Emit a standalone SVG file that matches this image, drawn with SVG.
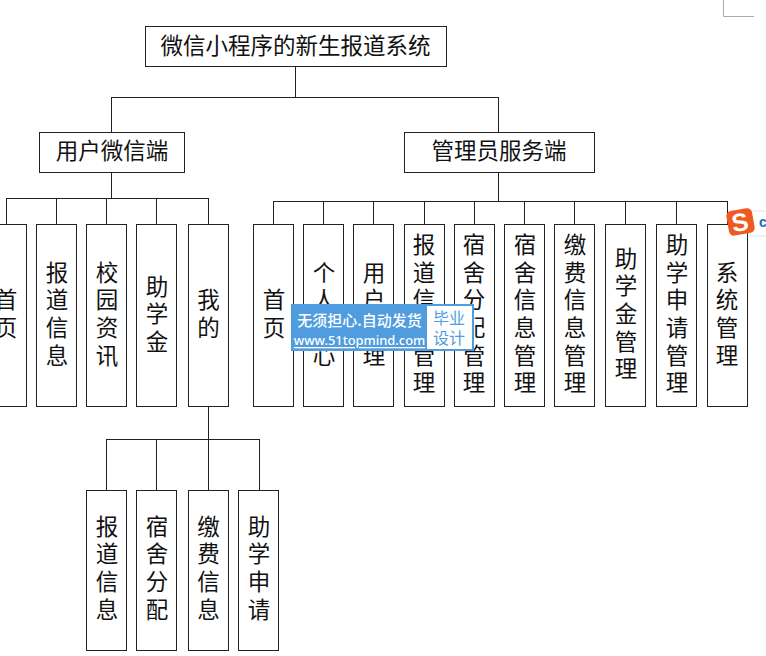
<svg xmlns="http://www.w3.org/2000/svg" width="766" height="656" viewBox="0 0 766 656">
<style>
.b{fill:#fff;stroke:#222;stroke-width:1}
.t{font-family:"Noto Sans CJK SC","Noto Sans CJK JP",sans-serif;font-size:22.500px;fill:#111;text-anchor:middle;dominant-baseline:central;transform:translateY(-2px)}
.c{fill:none;stroke:#222;stroke-width:1}
</style>
<rect width="766" height="656" fill="#fff"/>
<path d="M723.500 0V16.500H754" fill="none" stroke="#aaa"/>
<g id="connectors" class="c">
<path d="M295.500 66V97.500M111.500 97.500H498.500M111.500 97V132M498.500 97V132"/>
<path d="M111.500 172V198.500M6.500 198.500H208.500M6.500 198V224M56.500 198V224M106.500 198V224M156.500 198V224M208.500 198V224"/>
<path d="M498.500 172V201.500M273.500 201.500H727.500M273.500 201V224M323.500 201V224M373.500 201V224M424.500 201V224M474.500 201V224M524.500 201V224M574.500 201V224M625.500 201V224M676.500 201V224M727.500 201V224"/>
<path d="M208.500 406V439.500M106.500 439.500H259.500M106.500 439V490M156.500 439V490M208.500 439V490M259.500 439V490"/>
</g>
<g id="root"><rect class="b" x="145.500" y="26.500" width="301" height="40"/><text class="t" x="295.500" y="46">微信小程序的新生报道系统</text></g>
<g id="user"><rect class="b" x="39.500" y="132.500" width="145" height="40"/><text class="t" x="112" y="151">用户微信端</text></g>
<g id="admin"><rect class="b" x="404.500" y="132.500" width="190" height="40"/><text class="t" x="499" y="151">管理员服务端</text></g>
<g id="u1"><rect class="b" x="-14.500" y="224.500" width="41" height="182"/><text class="t" x="6"><tspan x="6" y="300">首</tspan><tspan x="6" y="328">页</tspan></text></g>
<g id="u2"><rect class="b" x="36.500" y="224.500" width="40" height="182"/><text class="t"><tspan x="57" y="273">报</tspan><tspan x="57" y="300">道</tspan><tspan x="57" y="328">信</tspan><tspan x="57" y="356">息</tspan></text></g>
<g id="u3"><rect class="b" x="86.500" y="224.500" width="40" height="182"/><text class="t"><tspan x="107" y="273">校</tspan><tspan x="107" y="300">园</tspan><tspan x="107" y="328">资</tspan><tspan x="107" y="356">讯</tspan></text></g>
<g id="u4"><rect class="b" x="136.500" y="224.500" width="40" height="182"/><text class="t"><tspan x="157" y="287">助</tspan><tspan x="157" y="314">学</tspan><tspan x="157" y="342">金</tspan></text></g>
<g id="u5"><rect class="b" x="188.500" y="224.500" width="40" height="182"/><text class="t"><tspan x="208.500" y="300">我</tspan><tspan x="208.500" y="328">的</tspan></text></g>
<g id="m1"><rect class="b" x="86.500" y="490.500" width="40" height="160"/><text class="t"><tspan x="107" y="527">报</tspan><tspan x="107" y="554">道</tspan><tspan x="107" y="582">信</tspan><tspan x="107" y="610">息</tspan></text></g>
<g id="m2"><rect class="b" x="136.500" y="490.500" width="40" height="160"/><text class="t"><tspan x="157" y="527">宿</tspan><tspan x="157" y="554">舍</tspan><tspan x="157" y="582">分</tspan><tspan x="157" y="610">配</tspan></text></g>
<g id="m3"><rect class="b" x="188.500" y="490.500" width="40" height="160"/><text class="t"><tspan x="208.500" y="527">缴</tspan><tspan x="208.500" y="554">费</tspan><tspan x="208.500" y="582">信</tspan><tspan x="208.500" y="610">息</tspan></text></g>
<g id="m4"><rect class="b" x="238.500" y="490.500" width="40" height="160"/><text class="t"><tspan x="259" y="527">助</tspan><tspan x="259" y="554">学</tspan><tspan x="259" y="582">申</tspan><tspan x="259" y="610">请</tspan></text></g>
<g id="a1"><rect class="b" x="253.500" y="224.500" width="40" height="182"/><text class="t"><tspan x="274" y="300">首</tspan><tspan x="274" y="328">页</tspan></text></g>
<g id="a2"><rect class="b" x="303.500" y="224.500" width="40" height="182"/><text class="t"><tspan x="324" y="273">个</tspan><tspan x="324" y="300">人</tspan><tspan x="324" y="328">中</tspan><tspan x="324" y="356">心</tspan></text></g>
<g id="a3"><rect class="b" x="353.500" y="224.500" width="40" height="182"/><text class="t"><tspan x="374" y="273">用</tspan><tspan x="374" y="300">户</tspan><tspan x="374" y="328">管</tspan><tspan x="374" y="356">理</tspan></text></g>
<g id="a4"><rect class="b" x="404.500" y="224.500" width="40" height="182"/><text class="t"><tspan x="424" y="245">报</tspan><tspan x="424" y="273">道</tspan><tspan x="424" y="300">信</tspan><tspan x="424" y="328">息</tspan><tspan x="424" y="356">管</tspan><tspan x="424" y="383">理</tspan></text></g>
<g id="a5"><rect class="b" x="454.500" y="224.500" width="40" height="182"/><text class="t"><tspan x="474" y="245">宿</tspan><tspan x="474" y="273">舍</tspan><tspan x="474" y="300">分</tspan><tspan x="474" y="328">配</tspan><tspan x="474" y="356">管</tspan><tspan x="474" y="383">理</tspan></text></g>
<g id="a6"><rect class="b" x="504.500" y="224.500" width="40" height="182"/><text class="t"><tspan x="525" y="245">宿</tspan><tspan x="525" y="273">舍</tspan><tspan x="525" y="300">信</tspan><tspan x="525" y="328">息</tspan><tspan x="525" y="356">管</tspan><tspan x="525" y="383">理</tspan></text></g>
<g id="a7"><rect class="b" x="554.500" y="224.500" width="40" height="182"/><text class="t"><tspan x="575" y="245">缴</tspan><tspan x="575" y="273">费</tspan><tspan x="575" y="300">信</tspan><tspan x="575" y="328">息</tspan><tspan x="575" y="356">管</tspan><tspan x="575" y="383">理</tspan></text></g>
<g id="a8"><rect class="b" x="605.500" y="224.500" width="40" height="182"/><text class="t"><tspan x="626" y="259">助</tspan><tspan x="626" y="286">学</tspan><tspan x="626" y="314">金</tspan><tspan x="626" y="342">管</tspan><tspan x="626" y="369">理</tspan></text></g>
<g id="a9"><rect class="b" x="656.500" y="224.500" width="40" height="182"/><text class="t"><tspan x="677" y="245">助</tspan><tspan x="677" y="273">学</tspan><tspan x="677" y="300">申</tspan><tspan x="677" y="328">请</tspan><tspan x="677" y="356">管</tspan><tspan x="677" y="383">理</tspan></text></g>
<g id="a10"><rect class="b" x="707.500" y="224.500" width="40" height="182"/><text class="t"><tspan x="727" y="273">系</tspan><tspan x="727" y="300">统</tspan><tspan x="727" y="328">管</tspan><tspan x="727" y="356">理</tspan></text></g>
<g id="watermark">
<rect x="291" y="304" width="183" height="47" fill="#4f9ddf"/>
<rect x="427" y="306" width="45" height="43" fill="#fff"/>
<text x="359.500" y="319" font-family="'Noto Sans CJK SC',sans-serif" font-size="15px" font-weight="500" fill="#fff" text-anchor="middle" dominant-baseline="central">无须担心.自动发货</text>
<text x="359.500" y="340" font-family="'Noto Sans','Liberation Sans',sans-serif" font-size="12.900px" font-weight="500" fill="#fff" text-anchor="middle" dominant-baseline="central" text-decoration="underline">www.51topmind.com</text>
<text font-family="'Noto Sans CJK SC',sans-serif" font-size="16px" fill="#4f9ddf" text-anchor="middle" dominant-baseline="central"><tspan x="449" y="317">毕业</tspan><tspan x="449" y="337">设计</tspan></text>
</g>
<g id="sogou">
<rect x="750" y="211" width="20" height="25" fill="#fff" stroke="#dbe4ee"/>
<text x="763" y="222" font-family="'Liberation Sans',sans-serif" font-size="14px" font-weight="bold" fill="#1a6fb5" text-anchor="middle" dominant-baseline="central">c</text>
<rect x="727.500" y="209.500" width="26" height="25" rx="5" fill="#ee5a22" transform="rotate(-10 740 222)"/>
<text x="740" y="222" font-family="'Liberation Sans',sans-serif" font-size="25px" font-weight="bold" fill="#fff" text-anchor="middle" dominant-baseline="central" transform="rotate(-10 740 222)">S</text>
</g>
</svg>
